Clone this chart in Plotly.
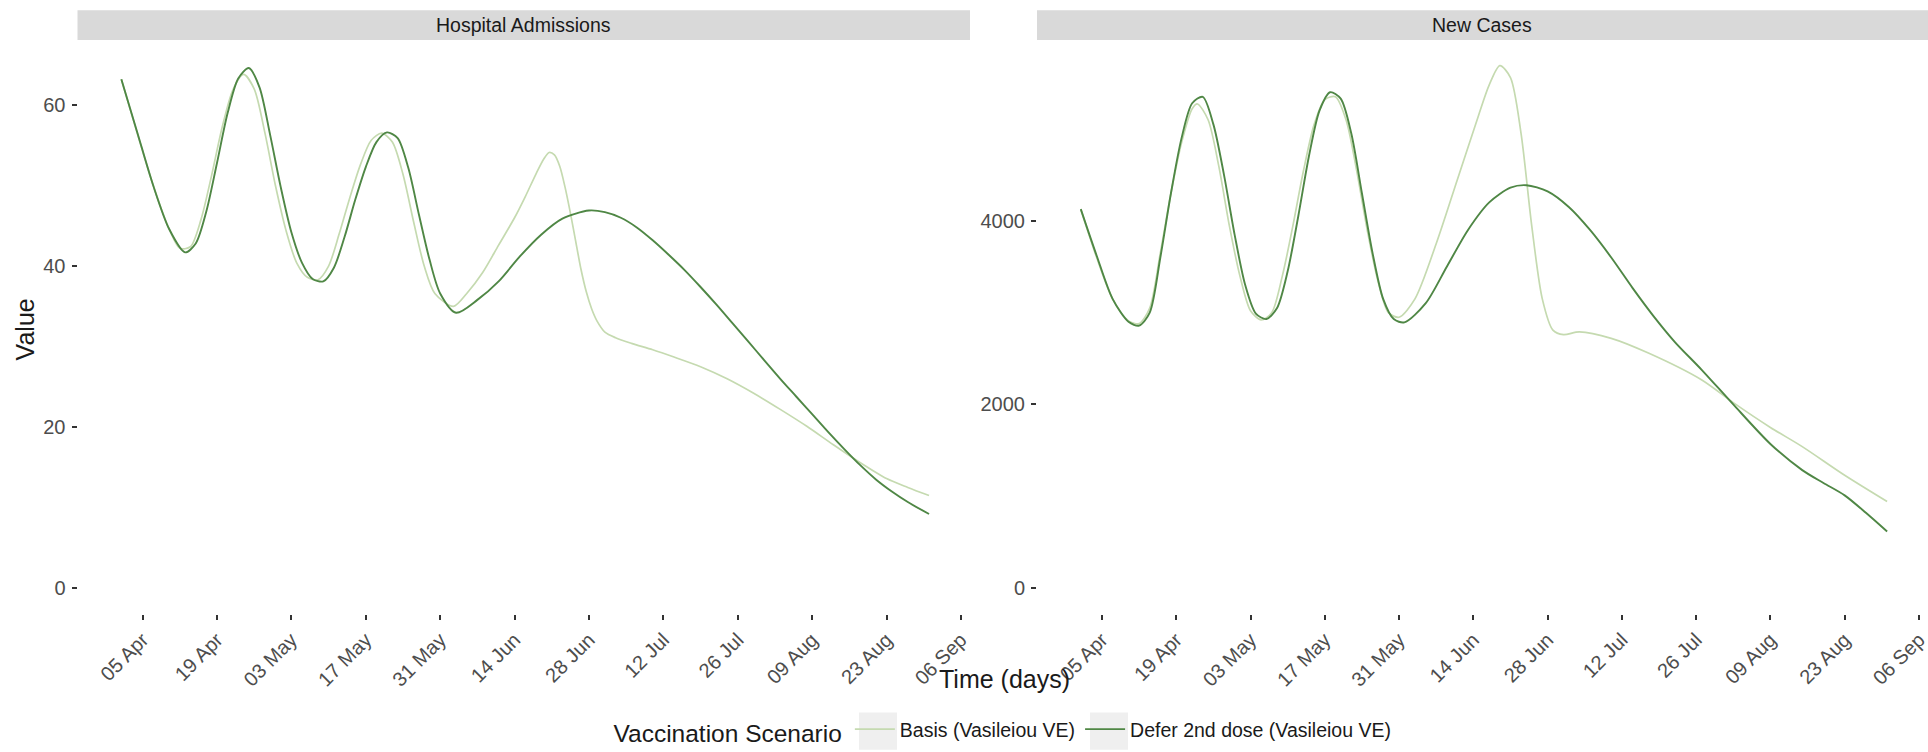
import plotly.graph_objects as go

# ---------------- data ----------------
panels = ["Hospital Admissions", "New Cases"]
scenarios = ["Basis (Vasileiou VE)", "Defer 2nd dose (Vasileiou VE)"]
colors = ["#c5dab0", "#4f8745"]

ha_basis_dates = ["2021-04-01", "2021-04-04", "2021-04-07", "2021-04-10", "2021-04-12", "2021-04-14",
                  "2021-04-16", "2021-04-18", "2021-04-20", "2021-04-22", "2021-04-24", "2021-04-26",
                  "2021-04-28", "2021-04-30", "2021-05-02", "2021-05-04", "2021-05-06", "2021-05-08",
                  "2021-05-10", "2021-05-12", "2021-05-14", "2021-05-16", "2021-05-18", "2021-05-20",
                  "2021-05-22", "2021-05-24", "2021-05-26", "2021-05-28", "2021-05-30", "2021-06-02 12:00",
                  "2021-06-05", "2021-06-08", "2021-06-11", "2021-06-14", "2021-06-16", "2021-06-18",
                  "2021-06-19 12:00", "2021-06-20 12:00", "2021-06-21 12:00", "2021-06-22 12:00",
                  "2021-06-23 12:00", "2021-06-24 12:00", "2021-06-25 12:00", "2021-06-26 12:00",
                  "2021-06-27 12:00", "2021-06-28 12:00", "2021-06-29 12:00", "2021-07-01", "2021-07-03",
                  "2021-07-06", "2021-07-10", "2021-07-14", "2021-07-19", "2021-07-24", "2021-07-29",
                  "2021-08-03", "2021-08-08", "2021-08-13", "2021-08-18", "2021-08-23", "2021-08-27",
                  "2021-08-31"]
ha_basis_vals = [63.2, 56.5, 50.0, 44.6, 42.2, 42.4,
                 45.8, 51.3, 57.3, 61.9, 63.8, 62.0,
                 56.6, 50.0, 44.4, 40.4, 38.6, 38.3,
                 40.0, 44.0, 48.5, 52.6, 55.6, 56.5,
                 55.4, 51.4, 45.5, 40.0, 36.6, 35.0,
                 36.6, 39.2, 42.6, 46.0, 48.6, 51.4,
                 53.3, 54.1, 53.8, 52.4,
                 49.8, 46.6, 43.1, 39.6,
                 36.8, 34.7, 33.2, 31.8, 31.1,
                 30.4, 29.6, 28.7, 27.5, 26.0, 24.2,
                 22.2, 20.1, 17.8, 15.6, 13.6, 12.5,
                 11.5]

ha_defer_dates = ["2021-04-01", "2021-04-04", "2021-04-07", "2021-04-10", "2021-04-13", "2021-04-15",
                  "2021-04-17", "2021-04-19", "2021-04-21", "2021-04-23", "2021-04-25", "2021-04-27",
                  "2021-04-29", "2021-05-01", "2021-05-03", "2021-05-05", "2021-05-07", "2021-05-09",
                  "2021-05-11", "2021-05-13", "2021-05-15", "2021-05-17", "2021-05-19", "2021-05-21",
                  "2021-05-23", "2021-05-25", "2021-05-27", "2021-05-29", "2021-05-31", "2021-06-03",
                  "2021-06-07", "2021-06-11", "2021-06-15", "2021-06-19", "2021-06-23", "2021-06-28",
                  "2021-07-01", "2021-07-04", "2021-07-07", "2021-07-10", "2021-07-13", "2021-07-16",
                  "2021-07-19", "2021-07-22", "2021-07-25", "2021-07-28", "2021-07-31", "2021-08-03",
                  "2021-08-06", "2021-08-09", "2021-08-12", "2021-08-15", "2021-08-18", "2021-08-21",
                  "2021-08-24", "2021-08-27", "2021-08-31"]
ha_defer_vals = [63.2, 56.6, 50.0, 44.6, 41.7, 42.8,
                 46.8, 52.8, 59.0, 63.3, 64.6, 62.2,
                 56.3, 49.8, 44.2, 40.4, 38.4, 38.1,
                 39.8, 43.6, 48.2, 52.3, 55.4, 56.6,
                 55.9, 52.2, 46.4, 40.8, 36.6, 34.2,
                 35.8, 38.1, 41.2, 43.9, 45.9, 46.9,
                 46.7, 46.0, 44.8, 43.2, 41.4, 39.5,
                 37.4, 35.2, 32.9, 30.6, 28.3, 26.0,
                 23.8, 21.6, 19.4, 17.3, 15.3, 13.5,
                 12.0, 10.7, 9.2]

nc_basis_dates = ["2021-04-01", "2021-04-04", "2021-04-07", "2021-04-10", "2021-04-12", "2021-04-14",
                  "2021-04-16", "2021-04-18", "2021-04-20", "2021-04-22", "2021-04-23", "2021-04-25",
                  "2021-04-27", "2021-04-29", "2021-05-01", "2021-05-03", "2021-05-05", "2021-05-07",
                  "2021-05-09", "2021-05-11", "2021-05-13", "2021-05-15", "2021-05-17", "2021-05-19",
                  "2021-05-21", "2021-05-23", "2021-05-25", "2021-05-27", "2021-05-29", "2021-05-31",
                  "2021-06-03", "2021-06-07", "2021-06-11", "2021-06-15", "2021-06-17", "2021-06-19",
                  "2021-06-21", "2021-06-23", "2021-06-25", "2021-06-27", "2021-06-29", "2021-07-01",
                  "2021-07-04", "2021-07-10", "2021-07-17", "2021-07-27", "2021-08-02", "2021-08-09",
                  "2021-08-15", "2021-08-23", "2021-08-31"]
nc_basis_vals = [4127, 3600, 3150, 2910, 2880, 3050,
                 3650, 4300, 4850, 5220, 5272, 5100,
                 4600, 3950, 3400, 3020, 2920, 3000,
                 3400, 3950, 4550, 5050, 5320, 5350,
                 5100, 4550, 3900, 3350, 3000, 2950,
                 3150, 3750, 4450, 5150, 5480, 5690,
                 5560, 4950, 3950, 3150, 2810, 2761,
                 2790, 2720, 2560, 2269, 2020, 1750,
                 1541, 1229, 943]

nc_defer_dates = ["2021-04-01", "2021-04-04", "2021-04-07", "2021-04-10", "2021-04-12", "2021-04-14",
                  "2021-04-16", "2021-04-18", "2021-04-20", "2021-04-22", "2021-04-24", "2021-04-26",
                  "2021-04-28", "2021-04-30", "2021-05-02", "2021-05-04", "2021-05-06", "2021-05-08",
                  "2021-05-10", "2021-05-12", "2021-05-14", "2021-05-16", "2021-05-18", "2021-05-20",
                  "2021-05-22", "2021-05-24", "2021-05-26", "2021-05-28", "2021-05-30", "2021-06-01",
                  "2021-06-05", "2021-06-09", "2021-06-13", "2021-06-17", "2021-06-21", "2021-06-24",
                  "2021-06-28", "2021-07-02", "2021-07-06", "2021-07-10", "2021-07-14", "2021-07-18",
                  "2021-07-22", "2021-07-27", "2021-08-02", "2021-08-09", "2021-08-15", "2021-08-19",
                  "2021-08-23", "2021-08-27", "2021-08-31"]
nc_defer_vals = [4127, 3620, 3150, 2900, 2858, 3000,
                 3600, 4300, 4900, 5280, 5350, 5050,
                 4500, 3850, 3300, 2990, 2930, 3050,
                 3450, 4050, 4700, 5200, 5400, 5330,
                 4950, 4300, 3650, 3150, 2930, 2894,
                 3100, 3500, 3900, 4200, 4360, 4387,
                 4320, 4150, 3900, 3600, 3270, 2960,
                 2680, 2380, 2000, 1570, 1285, 1145,
                 1010, 820, 616]

series = {
    ("Hospital Admissions", 0): (ha_basis_dates, ha_basis_vals),
    ("Hospital Admissions", 1): (ha_defer_dates, ha_defer_vals),
    ("New Cases", 0): (nc_basis_dates, nc_basis_vals),
    ("New Cases", 1): (nc_defer_dates, nc_defer_vals),
}

ha_ticks = [0, 20, 40, 60]
nc_ticks = [0, 2000, 4000]

# ---------------- layout geometry ----------------
W, H = 1928, 752
def px(x):
    return x / W
def py(y):
    return (H - y) / H

x_dom = [[px(77.5), px(970)], [px(1037), 1.0]]
y_dom = [py(628.4), py(41)]
x_range = ["2021-03-23 18:00", "2021-09-07 17:00"]
y_ranges = [[-3.24, 68.07], [-284, 5968]]

FONT = "Liberation Sans, Arial, sans-serif"
LEGEND_Y = 748

fig = go.Figure()

for pi, panel in enumerate(panels):
    xa = "x" if pi == 0 else "x2"
    ya = "y" if pi == 0 else "y2"
    for si, sc in enumerate(scenarios):
        d, v = series[(panel, si)]
        fig.add_trace(go.Scatter(
            x=d, y=v, mode="lines", name=sc,
            line=dict(color=colors[si], width=1.9 if si == 1 else 1.7, shape="spline", smoothing=0.8),
            xaxis=xa, yaxis=ya, showlegend=(pi == 0), legendgroup=sc,
        ))

axis_common = dict(
    showgrid=False, zeroline=False, showline=False,
    ticks="outside", ticklen=5, tickwidth=1.5, tickcolor="#333333",
    tickfont=dict(family=FONT, size=20, color="#4d4d4d"),
)
xaxis_common = dict(type="date", range=x_range, tick0="2021-04-05", dtick=14 * 86400000,
                    tickformat="%d %b", tickangle=-45, ticklabeloverflow="allow")

fig.update_layout(
    width=W, height=H,
    margin=dict(l=0, r=0, t=0, b=0),
    paper_bgcolor="white", plot_bgcolor="white",
    font=dict(family=FONT),
    xaxis=dict(domain=x_dom[0], anchor="y", **xaxis_common, **axis_common),
    xaxis2=dict(domain=x_dom[1], anchor="y2", **xaxis_common, **axis_common),
    yaxis=dict(domain=y_dom, anchor="x", range=y_ranges[0], tickvals=ha_ticks,
               ticklabelstandoff=2, **axis_common),
    yaxis2=dict(domain=y_dom, anchor="x2", range=y_ranges[1], tickvals=nc_ticks,
                ticklabelstandoff=2, **axis_common),
    legend=dict(
        orientation="h", x=px(1004), xanchor="center", y=py(LEGEND_Y), yanchor="middle",
        title=dict(text="Vaccination Scenario", side="left",
                   font=dict(family=FONT, size=24.5, color="#1a1a1a")),
        font=dict(family=FONT, size=19.5, color="#1a1a1a"),
        itemwidth=40, bgcolor="rgba(0,0,0,0)",
    ),
)

# strips
shapes = []
annotations = []
for pi, panel in enumerate(panels):
    shapes.append(dict(type="rect", xref="paper", yref="paper",
                       x0=x_dom[pi][0], x1=x_dom[pi][1], y0=py(41), y1=py(10.5),
                       fillcolor="#d9d9d9", line=dict(width=0), layer="below"))
    annotations.append(dict(text=panel, xref="paper", yref="paper",
                            x=(x_dom[pi][0] + x_dom[pi][1]) / 2, y=py(25.5),
                            xanchor="center", yanchor="middle", showarrow=False,
                            font=dict(family=FONT, size=19.5, color="#1a1a1a")))

# light grey legend key backgrounds (ggplot style)
for kx in (859, 1090):
    shapes.append(dict(type="rect", xref="paper", yref="paper",
                       x0=px(kx), x1=px(kx + 38), y0=py(LEGEND_Y + 19), y1=py(LEGEND_Y - 19),
                       fillcolor="#efefef", line=dict(width=0), layer="below"))

annotations.append(dict(text="Time (days)", xref="paper", yref="paper",
                        x=px(1004), y=py(695), xanchor="center", yanchor="middle",
                        showarrow=False, font=dict(family=FONT, size=25, color="#1a1a1a")))
annotations.append(dict(text="Value", xref="paper", yref="paper",
                        x=px(25), y=py(337), xanchor="center", yanchor="middle", textangle=-90,
                        showarrow=False, font=dict(family=FONT, size=25, color="#1a1a1a")))

fig.update_layout(shapes=shapes, annotations=annotations)

fig.write_html("out.html", config={"displayModeBar": False},
               post_script="document.body.style.margin='0px';document.body.style.overflow='hidden';")
